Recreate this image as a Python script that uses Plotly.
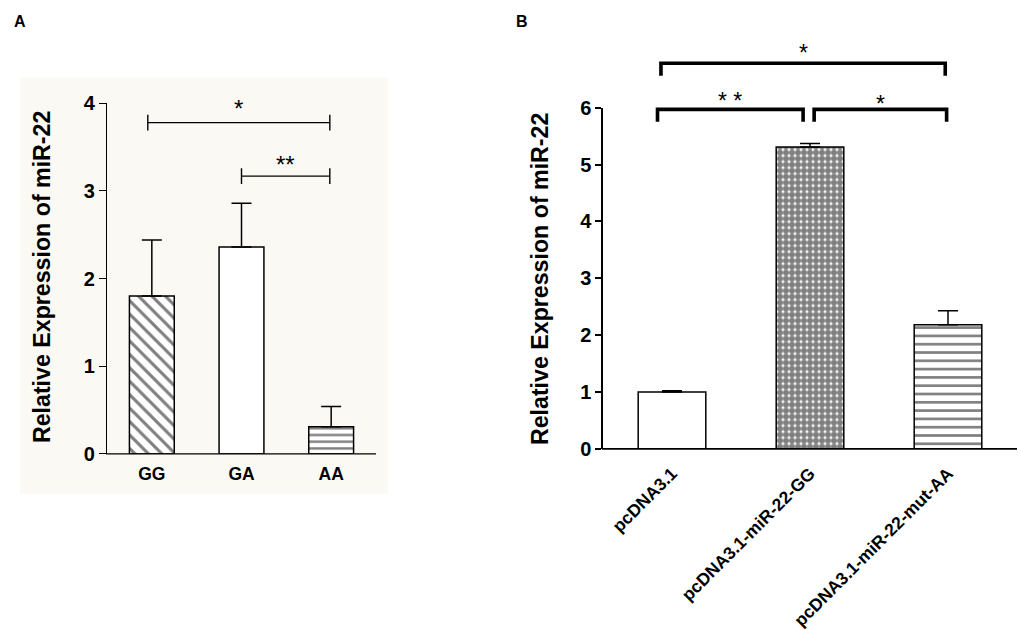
import plotly.graph_objects as go

# ---------------- data ----------------
cats_A = ["GG", "GA", "AA"]
vals_A = [1.80, 2.36, 0.31]
err_A = [0.64, 0.50, 0.23]
pattern_A = ["\\", "", "-"]
# comparisons: (left index, right index, label, bracket height)
sig_A = [(0, 2, "*", 3.78), (1, 2, "**", 3.17)]
yticks_A = [0, 1, 2, 3, 4]

cats_B = ["pcDNA3.1", "pcDNA3.1-miR-22-GG", "pcDNA3.1-miR-22-mut-AA"]
vals_B = [1.00, 5.31, 2.18]
err_B = [0.02, 0.06, 0.25]
pattern_B = ["", ".", "-"]
sig_B = [(0, 2, "*", 6.78), (0, 1, "* *", 5.97), (1, 2, "*", 5.97)]
yticks_B = [0, 1, 2, 3, 4, 5, 6]

y_title = "Relative Expression of miR-22"

FONT = "Liberation Sans, Arial, sans-serif"
W, H = 1021, 630
SY, OY = 0.957, 11.5   # vertical calibration of the photographed page


def px_x(p):
    return p / W


def px_y(p):
    return (H - (p - OY) / SY) / H


domA_x = [px_x(107), px_x(376)]
domA_y = [px_y(455), px_y(104)]
domB_x = [px_x(603), px_x(1017)]
domB_y = [px_y(450), px_y(108.3)]
ymaxA, ymaxB = 4, 6

pat_style_A = {"\\": (9.5, 0.33), "-": (6.7, 0.36)}
pat_style_B = {".": (6, 0.78), "-": (8.3, 0.32)}

fig = go.Figure()


def add_bars(cats, vals, errs, pats, styles, xa, ya, width, cap):
    for i, (c, v, e, p) in enumerate(zip(cats, vals, errs, pats)):
        marker = dict(color="white", line=dict(color="black", width=1.5))
        if p:
            size, sol = styles[p]
            marker["pattern"] = dict(shape=p, fgcolor="black", bgcolor="white",
                                     size=size, solidity=sol)
        fig.add_trace(go.Bar(
            x=[i], y=[v], width=width, name=c, marker=marker,
            error_y=dict(type="data", symmetric=False, array=[e], arrayminus=[0],
                         color="black", thickness=1.5, width=cap),
            xaxis=xa, yaxis=ya, showlegend=False))


add_bars(cats_A, vals_A, err_A, pattern_A, pat_style_A, "x", "y", 0.5, 10)
add_bars(cats_B, vals_B, err_B, pattern_B, pat_style_B, "x2", "y2", 0.49, 10)

ytick_font = dict(family=FONT, size=20, color="black", weight="bold")

fig.update_layout(
    width=W, height=H, margin=dict(l=0, r=0, t=0, b=0),
    paper_bgcolor="white", plot_bgcolor="rgba(0,0,0,0)",
    font=dict(family=FONT, color="black"),
    barmode="overlay",
    xaxis=dict(domain=domA_x, range=[-0.5, 2.5], anchor="y",
               tickvals=list(range(len(cats_A))), ticktext=cats_A,
               showline=False, ticks="",
               showgrid=False, zeroline=False, ticklabelstandoff=8,
               tickfont=dict(family=FONT, size=17.5, color="black", weight="bold")),
    yaxis=dict(domain=domA_y, range=[0, ymaxA], anchor="x",
               tickvals=yticks_A, showline=True, linecolor="black", linewidth=1.3,
               ticks="outside", ticklen=7, tickwidth=1.3, tickcolor="black",
               showgrid=False, zeroline=False, tickfont=ytick_font),
    xaxis2=dict(domain=domB_x, range=[-0.5, 2.5], anchor="y2",
                tickvals=list(range(len(cats_B))), ticktext=cats_B, tickangle=-45,
                showline=False, ticks="",
                showgrid=False, zeroline=False, ticklabelstandoff=10,
                tickfont=dict(family=FONT, size=17.5, color="black", weight="bold")),
    yaxis2=dict(domain=domB_y, range=[0, ymaxB], anchor="x2",
                tickvals=yticks_B, showline=True, linecolor="black", linewidth=1.5,
                ticks="outside", ticklen=6, tickwidth=1.5, tickcolor="black",
                showgrid=False, zeroline=False, tickfont=ytick_font),
)

shapes = []
# light background of panel A
shapes.append(dict(type="rect", xref="paper", yref="paper",
                   x0=px_x(20), x1=px_x(388), y0=px_y(495), y1=px_y(78),
                   fillcolor="#faf9f4", line=dict(width=0), layer="below"))

# x-axis baselines drawn exactly at y = 0 so they coincide with the bar bottoms
for dx, dy, lw in ((domA_x, domA_y, 1.4), (domB_x, domB_y, 1.6)):
    shapes.append(dict(type="line", xref="paper", yref="paper",
                       x0=dx[0] - 1 / W, x1=dx[1], y0=dy[0], y1=dy[0],
                       line=dict(color="black", width=lw), layer="above"))

annotations = []


def to_paper_y(v, dom, ymax):
    return dom[0] + (v / ymax) * (dom[1] - dom[0])


# panel A brackets (thin, with centred end ticks)
for k, (i, j, lab, h) in enumerate(sig_A):
    x0 = i - 0.045 if i == 0 else i
    x1 = j - 0.015
    t = 0.09
    shapes.append(dict(type="path", xref="x", yref="y",
                       path=f"M {x0},{h} L {x1},{h}",
                       line=dict(color="black", width=1.4)))
    for xx in (x0, x1):
        shapes.append(dict(type="path", xref="x", yref="y",
                           path=f"M {xx},{h - t} L {xx},{h + t}",
                           line=dict(color="black", width=1.4)))
    gap = [19, 17][k]
    annotations.append(dict(x=(x0 + x1) / 2, y=to_paper_y(h, domA_y, ymaxA),
                            xref="x", yref="paper", text=lab, showarrow=False,
                            xanchor="center", yanchor="middle", yshift=gap / SY - 6,
                            font=dict(family=FONT, size=24, color="black")))

# panel B brackets (thick, legs down)
leg = 0.22
for k, (i, j, lab, h) in enumerate(sig_B):
    if j - i == 2:
        x0, x1 = i - 0.08, j - 0.02
    elif i == 0:
        x0, x1 = i - 0.105, j - 0.05
    else:
        x0, x1 = i + 0.03, j - 0.01
    f0 = (h - leg) / ymaxB
    f1 = h / ymaxB
    shapes.append(dict(type="path", xref="x2", yref="y2 domain",
                       path=f"M {x0},{f0} L {x0},{f1} L {x1},{f1} L {x1},{f0}",
                       line=dict(color="black", width=3.6)))
    gap = [16, 14, 11][k]
    annotations.append(dict(x=(x0 + x1) / 2, y=to_paper_y(h, domB_y, ymaxB),
                            xref="x2", yref="paper", text=lab, showarrow=False,
                            xanchor="center", yanchor="middle", yshift=gap / SY - 6,
                            font=dict(family=FONT, size=23, color="black")))

# axis titles
for xc, yc in ((42, 278), (540, 280)):
    annotations.append(dict(x=px_x(xc), y=px_y(yc), xref="paper", yref="paper",
                            text=y_title, textangle=-90, showarrow=False,
                            xanchor="center", yanchor="middle",
                            font=dict(family=FONT, size=23.2, color="black", weight="bold")))

# panel letters
for lab, xc in (("A", 20), ("B", 522)):
    annotations.append(dict(x=px_x(xc), y=px_y(22), xref="paper", yref="paper",
                            text=lab, showarrow=False, xanchor="center", yanchor="middle",
                            font=dict(family=FONT, size=16, color="black", weight="bold")))

fig.update_layout(shapes=shapes, annotations=annotations)

fig.write_html("out.html", config={"displayModeBar": False},
               post_script="document.body.style.margin='0px';")
